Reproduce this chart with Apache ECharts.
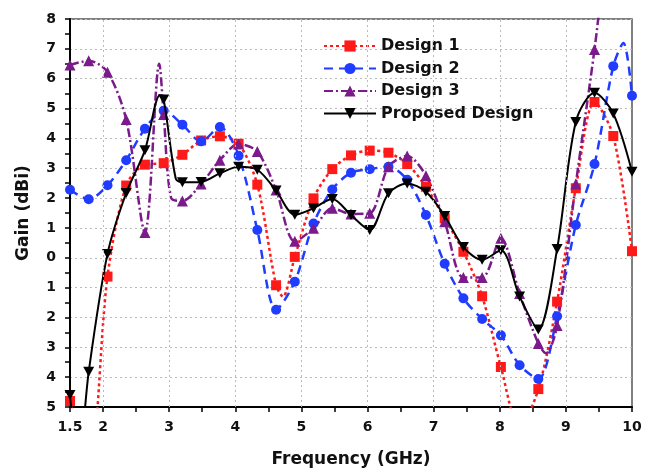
<!DOCTYPE html>
<html>
<head>
<meta charset="utf-8">
<script src="https://cdn.jsdelivr.net/npm/echarts@6/dist/echarts.min.js"></script>
<style>html,body{margin:0;padding:0;background:#fff}#c{width:655px;height:469px}</style>
</head>
<body>
<div id="c"></div>
<script>
// Marker frequencies (GHz)
const freq = [1.5, 1.783, 2.067, 2.35, 2.633, 2.917, 3.2, 3.483, 3.767, 4.05, 4.333, 4.617, 4.9, 5.183, 5.467, 5.75, 6.033, 6.317, 6.6, 6.883, 7.167, 7.45, 7.733, 8.017, 8.3, 8.583, 8.867, 9.15, 9.433, 9.717, 10];
const design1 = [-4.8, -7.2, -0.63, 2.42, 3.12, 3.17, 3.45, 3.93, 4.07, 3.82, 2.45, -0.92, 0.03, 1.99, 2.97, 3.43, 3.59, 3.52, 3.14, 2.38, 1.32, 0.2, -1.29, -3.66, -5.7, -4.4, -1.47, 2.33, 5.22, 4.08, 0.22];
const design2 = [2.28, 1.96, 2.43, 3.27, 4.32, 4.93, 4.46, 3.9, 4.38, 3.42, 0.93, -1.74, -0.8, 1.15, 2.29, 2.85, 2.97, 3.05, 2.61, 1.43, -0.2, -1.36, -2.05, -2.6, -3.6, -4.06, -1.96, 1.1, 3.14, 6.42, 5.43];
const design3 = [6.46, 6.6, 6.22, 4.63, 0.85, 4.8, 1.9, 2.47, 3.27, 3.81, 3.56, 2.27, 0.55, 0.99, 1.66, 1.47, 1.49, 3.05, 3.41, 2.75, 1.21, -0.66, -0.66, 0.65, -1.2, -2.87, -2.27, 2.47, 6.98, 12, 14];
const proposed = [-4.6, -3.82, 0.13, 2.17, 3.6, 5.3, 2.53, 2.54, 2.83, 3.05, 2.95, 2.25, 1.44, 1.66, 1.97, 1.43, 0.93, 2.16, 2.49, 2.21, 1.4, 0.36, -0.07, 0.25, -1.3, -2.4, 0.29, 4.55, 5.53, 4.83, 2.88];
// Extra curve points between markers (no marker drawn)
const design1Extra = [[4.72, -1.3]];
const design2Extra = [[9.87, 7.2]];
const design3Extra = [[2.85, 6.5], [3.03, 2.0], [8.7, -3.2]];
const proposedExtra = [[1.63, -6.8], [2.86, 5.45], [3.1, 2.65]];
const names = ['Design 1', 'Design 2', 'Design 3', 'Proposed Design'];
const xGrid = [2, 3, 4, 5, 6, 7, 8, 9];

function build(vals, extra) {
  const pts = freq.map((f, i) => ({ value: [f, vals[i]] }));
  extra.forEach(p => pts.push({ value: p, symbol: 'none' }));
  pts.sort((a, b) => a.value[0] - b.value[0]);
  return pts;
}

const FONT = 'DejaVu Sans';
const chart = echarts.init(document.getElementById('c'), null, { renderer: 'canvas' });
const gridLine = { type: [2, 3], color: '#bbbbbb', width: 1 };

const option = {
  animation: false,
  backgroundColor: '#fff',
  grid: { left: 70, right: 23, top: 19, bottom: 62, containLabel: false, outerBoundsMode: 'none',
    show: true, borderColor: '#555', borderWidth: 1.5, backgroundColor: 'transparent' },
  legend: {
    orient: 'vertical', left: 318, top: 33, itemWidth: 52, itemHeight: 14, itemGap: 6.5,
    textStyle: { fontFamily: FONT, fontWeight: 'bold', fontSize: 16, color: '#111' },
    data: names
  },
  xAxis: {
    type: 'value', min: 1.5, max: 10, interval: 0.5,
    name: 'Frequency (GHz)', nameLocation: 'middle', nameGap: 44,
    nameTextStyle: { fontFamily: FONT, fontWeight: 'bold', fontSize: 17, color: '#111' },
    axisLine: { show: true, onZero: false, lineStyle: { color: '#000', width: 2 } },
    axisTick: { show: true, length: 5, lineStyle: { color: '#000', width: 1.5 } },
    axisLabel: {
      margin: 13, fontFamily: FONT, fontWeight: 'bold', fontSize: 14, color: '#111',
      formatter: v => (v === 1.5 || Number.isInteger(v)) ? String(v) : ''
    },
    splitLine: { show: false }
  },
  yAxis: {
    type: 'value', min: -5, max: 8, interval: 1,
    name: 'Gain (dBi)', nameLocation: 'middle', nameGap: 38, nameRotate: 90,
    nameTextStyle: { fontFamily: FONT, fontWeight: 'bold', fontSize: 17, color: '#111' },
    axisLine: { show: true, onZero: false, lineStyle: { color: '#000', width: 2 } },
    axisTick: { show: true, length: 5, lineStyle: { color: '#000', width: 1.5 } },
    minorTick: { show: true, splitNumber: 2, length: 5, lineStyle: { color: '#000', width: 1.5 } },
    axisLabel: {
      margin: 14, fontFamily: FONT, fontWeight: 'bold', fontSize: 14, color: '#111',
      formatter: v => String(Math.abs(v))
    },
    splitLine: { show: true, lineStyle: gridLine }
  },
  series: [
    {
      name: '_grid', type: 'line', data: [], z: 1, silent: true,
      markLine: { silent: true, symbol: ['none', 'none'], label: { show: false }, lineStyle: gridLine, animation: false,
        data: xGrid.map(v => ({ xAxis: v })) }
    },
    {
      name: names[0], type: 'line', data: build(design1, design1Extra), smooth: 0.3,
      symbol: 'rect', symbolSize: 10, showAllSymbol: true,
      lineStyle: { color: '#ff1a1a', width: 2.5, type: [3, 3] },
      itemStyle: { color: '#ff1a1a' }, z: 3
    },
    {
      name: names[1], type: 'line', data: build(design2, design2Extra), smooth: 0.3,
      symbol: 'circle', symbolSize: 10, showAllSymbol: true,
      lineStyle: { color: '#1f3cff', width: 2.5, type: [9, 6] },
      itemStyle: { color: '#1f3cff' }, z: 3
    },
    {
      name: names[2], type: 'line', data: build(design3, design3Extra), smooth: 0.3,
      symbol: 'triangle', symbolSize: 11, showAllSymbol: true,
      lineStyle: { color: '#7b1a8a', width: 2.5, type: [9, 3, 2, 3] },
      itemStyle: { color: '#7b1a8a' }, z: 3
    },
    {
      name: names[3], type: 'line', data: build(proposed, proposedExtra), smooth: 0.3,
      symbol: 'path://M0,0 L10,0 L5,9 Z', symbolSize: [11, 10], showAllSymbol: true,
      lineStyle: { color: '#000', width: 2 },
      itemStyle: { color: '#000' }, z: 4
    }
  ]
};
chart.setOption(option);
</script>
</body>
</html>
